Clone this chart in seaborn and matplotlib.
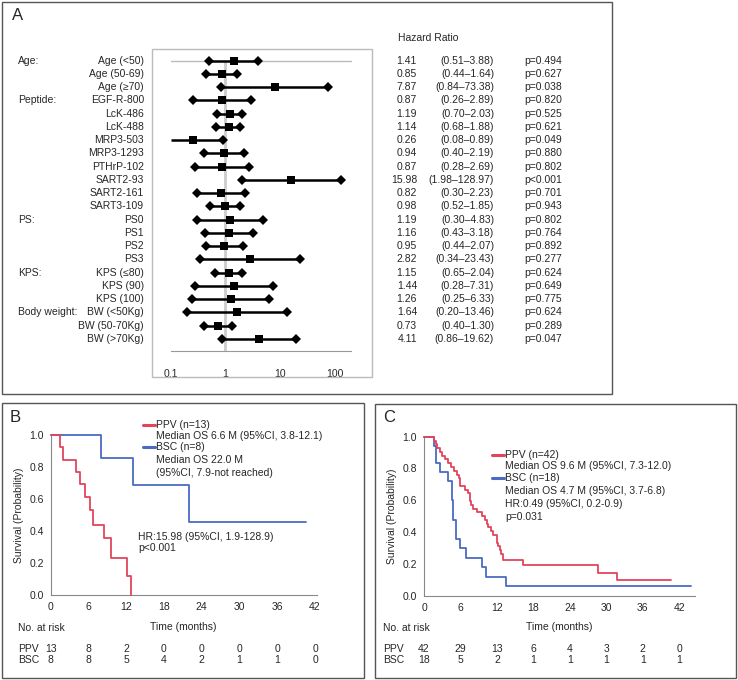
import numpy as np
import matplotlib
matplotlib.use("Agg")
import matplotlib.pyplot as plt
import matplotlib.transforms as mtransforms
from matplotlib.patches import Rectangle
from matplotlib.lines import Line2D
from matplotlib.ticker import MultipleLocator, NullLocator
import seaborn as sns

sns.set_style("white")
plt.rcParams["font.family"] = ["Liberation Sans", "DejaVu Sans"]

# ---- panel A data (forest plot) ----
sub_labels = ["Age (<50)", "Age (50-69)", "Age (\u226570)", "EGF-R-800", "LcK-486", "LcK-488",
              "MRP3-503", "MRP3-1293", "PTHrP-102", "SART2-93", "SART2-161", "SART3-109",
              "PS0", "PS1", "PS2", "PS3", "KPS (\u226480)", "KPS (90)", "KPS (100)",
              "BW (<50Kg)", "BW (50-70Kg)", "BW (>70Kg)"]
group_rows = [0, 3, 12, 16, 19]
group_labels = ["Age:", "Peptide:", "PS:", "KPS:", "Body weight:"]
hr = [1.41, 0.85, 7.87, 0.87, 1.19, 1.14, 0.26, 0.94, 0.87, 15.98, 0.82, 0.98,
      1.19, 1.16, 0.95, 2.82, 1.15, 1.44, 1.26, 1.64, 0.73, 4.11]
ci_lo = [0.51, 0.44, 0.84, 0.26, 0.70, 0.68, 0.08, 0.40, 0.28, 1.98, 0.30, 0.52,
         0.30, 0.43, 0.44, 0.34, 0.65, 0.28, 0.25, 0.20, 0.40, 0.86]
ci_hi = [3.88, 1.64, 73.38, 2.89, 2.03, 1.88, 0.89, 2.19, 2.69, 128.97, 2.23, 1.85,
         4.83, 3.18, 2.07, 23.43, 2.04, 7.31, 6.33, 13.46, 1.30, 19.62]
pvals = ["p=0.494", "p=0.627", "p=0.038", "p=0.820", "p=0.525", "p=0.621", "p=0.049",
         "p=0.880", "p=0.802", "p<0.001", "p=0.701", "p=0.943", "p=0.802", "p=0.764",
         "p=0.892", "p=0.277", "p=0.624", "p=0.649", "p=0.775", "p=0.624", "p=0.289",
         "p=0.047"]
hr_ticks = [0.1, 1, 10, 100]

# ---- panel B data (Kaplan-Meier) ----
b_ppv_t = [0, 1.4, 2.0, 4.0, 4.6, 5.5, 6.25, 6.7, 8.5, 9.6, 12.1, 12.7]
b_ppv_s = [1.0, 0.923, 0.846, 0.769, 0.692, 0.615, 0.529, 0.44, 0.354, 0.233, 0.117, 0.0]
b_bsc_t = [0, 8.0, 13.0, 22.0, 40.5]
b_bsc_s = [1.0, 0.857, 0.686, 0.457, 0.457]
b_risk_ppv = [13, 8, 2, 0, 0, 0, 0, 0]
b_risk_bsc = [8, 8, 5, 4, 2, 1, 1, 0]

# ---- panel C data ----
c_ppv_t = [0, 1.7, 1.9, 2.2, 2.6, 3.0, 3.4, 3.9, 4.4, 5.0, 5.4, 5.8, 6.0, 6.8, 7.3, 7.5,
           7.6, 7.8, 8.0, 8.8, 9.6, 10.0, 10.3, 10.5, 11.0, 11.3, 12.0, 12.2, 12.5, 12.7,
           13.0, 16.3, 28.7, 31.8, 40.6]
c_ppv_s = [1.0, 0.976, 0.952, 0.929, 0.905, 0.881, 0.857, 0.833, 0.810, 0.786, 0.762,
           0.738, 0.690, 0.667, 0.643, 0.619, 0.595, 0.571, 0.548, 0.524, 0.500, 0.476,
           0.452, 0.429, 0.405, 0.381, 0.333, 0.310, 0.286, 0.262, 0.226, 0.194, 0.145,
           0.097, 0.097]
c_bsc_t = [0, 1.7, 2.0, 2.7, 3.9, 4.55, 4.85, 5.3, 5.9, 6.9, 9.5, 10.2, 13.5, 44.0]
c_bsc_s = [1.0, 0.944, 0.833, 0.778, 0.722, 0.60, 0.476, 0.357, 0.298, 0.238, 0.179,
           0.119, 0.06, 0.06]
c_risk_ppv = [42, 29, 13, 6, 4, 3, 2, 0]
c_risk_bsc = [18, 5, 2, 1, 1, 1, 1, 1]
risk_months = [0, 6, 12, 18, 24, 30, 36, 42]

RED = "#e2445a"
BLUE = "#4a6ac4"
W, H = 738, 680
fig = plt.figure(figsize=(W / 100, H / 100), dpi=100)


def fx(x):
    return x / W


def fy(y):
    return 1 - y / H


def add_ax(x0, y0, x1, y1):
    return fig.add_axes([x0 / W, 1 - y1 / H, (x1 - x0) / W, (y1 - y0) / H])


def box(x0, y0, x1, y1):
    fig.add_artist(Rectangle((fx(x0), fy(y1)), (x1 - x0) / W, (y1 - y0) / H,
                             transform=fig.transFigure, fill=False, ec="#555555", lw=1))


# outer panel boxes
box(2, 2, 612, 394)
box(2, 403, 364, 678)
box(375, 404, 736, 678)
fig.text(fx(12), fy(16), "A", fontsize=12, va="center", ha="left")
fig.text(fx(10), fy(418), "B", fontsize=12, va="center", ha="left")
fig.text(fx(383), fy(418), "C", fontsize=12, va="center", ha="left")

# ================= panel A =================
ax = add_ax(152, 49, 372, 377)
ax.set_xscale("log")
ax.set_xlim(10 ** -1.341, 10 ** 2.675)
ax.set_ylim(23.87, -0.883)
rows = np.arange(len(hr))
for s in ["top", "left", "right"]:
    ax.spines[s].set_visible(False)
ax.spines["bottom"].set_position(("data", 21.9))
ax.spines["bottom"].set_bounds(0.1, 193)
ax.spines["bottom"].set_color("#999999")
ax.add_patch(Rectangle((0, 0), 1, 1, transform=ax.transAxes, fill=False,
                       ec="#bbbbbb", lw=1, clip_on=False))
ax.set_xticks(hr_ticks)
ax.set_xticklabels(["0.1", "1", "10", "100"])
ax.xaxis.set_minor_locator(NullLocator())
ax.tick_params(axis="x", direction="out", length=4, pad=9, color="#999999", labelsize=7.5)
ax.set_yticks([])

ax.plot([0.1, 193], [0, 0], color="#bbbbbb", lw=1, zorder=1)
ax.vlines(1, 0, 21.9, color="#cccccc", lw=2, zorder=1)
xmin_plot = 0.1
lo_draw = [max(v, xmin_plot) for v in ci_lo]
ax.hlines(rows, lo_draw, ci_hi, color="black", lw=1.8, zorder=2)
lo_vis = [(v, r) for v, r in zip(ci_lo, rows) if v >= xmin_plot]
ax.plot([v for v, r in lo_vis], [r for v, r in lo_vis], ls="none", marker="D",
        ms=4.8, mew=0, color="black", zorder=3)
ax.plot(ci_hi, rows, ls="none", marker="D", ms=4.8, mew=0, color="black", zorder=3)
sns.scatterplot(x=hr, y=rows, marker="s", s=36, color="black", linewidth=0,
                ax=ax, zorder=4, legend=False)

tr = mtransforms.blended_transform_factory(fig.transFigure, ax.transData)
for r, lab in zip(rows, sub_labels):
    ax.text(fx(144), r, lab, transform=tr, ha="right", va="center", fontsize=7.5)
for r, lab in zip(group_rows, group_labels):
    ax.text(fx(18), r, lab, transform=tr, ha="left", va="center", fontsize=7.5)
fig.text(fx(398), fy(38), "Hazard Ratio", ha="left", va="center", fontsize=7.5)
for r in rows:
    ax.text(fx(417), r, f"{hr[r]:.2f}", transform=tr, ha="right", va="center", fontsize=7.5)
    ax.text(fx(494), r, f"({ci_lo[r]:.2f}\u2013{ci_hi[r]:.2f})", transform=tr,
            ha="right", va="center", fontsize=7.5)
    ax.text(fx(524), r, pvals[r], transform=tr, ha="left", va="center", fontsize=7.5)


# ================= panels B and C =================
def km_axes(x0, x1, y0, y1, xmax):
    a = add_ax(x0, y0, x1, y1)
    a.set_xlim(0, xmax)
    a.set_ylim(0, 1.0)
    a.spines["top"].set_visible(False)
    a.spines["right"].set_visible(False)
    for s in ["left", "bottom"]:
        a.spines[s].set_color("#888888")
        a.spines[s].set_linewidth(0.8)
    a.set_xticks(risk_months)
    a.set_yticks([0, 0.2, 0.4, 0.6, 0.8, 1.0])
    a.set_yticklabels(["0.0", "0.2", "0.4", "0.6", "0.8", "1.0"])
    a.xaxis.set_minor_locator(MultipleLocator(3))
    a.yaxis.set_minor_locator(MultipleLocator(0.1))
    a.tick_params(which="major", direction="out", length=3, width=0.8, color="#888888",
                  labelsize=7.5, pad=2)
    a.tick_params(which="minor", direction="in", length=2, width=0.6, color="#aaaaaa")
    a.set_ylabel("Survival (Probability)", fontsize=7.5, labelpad=4)
    a.set_xlabel("Time (months)", fontsize=7.5, labelpad=7)
    return a


def km_curve(a, t, s, color):
    sns.lineplot(x=t, y=s, drawstyle="steps-post", color=color, lw=1.3, ax=a,
                 estimator=None, legend=False, clip_on=False, zorder=3)


def risk_table(a, xlab, ppv, bsc):
    trk = mtransforms.blended_transform_factory(a.transData, fig.transFigure)
    fig.text(fx(xlab), fy(628), "No. at risk", ha="left", va="center", fontsize=7.5)
    fig.text(fx(xlab), fy(649), "PPV", ha="left", va="center", fontsize=7.5)
    fig.text(fx(xlab), fy(660), "BSC", ha="left", va="center", fontsize=7.5)
    for m, v1, v2 in zip(risk_months, ppv, bsc):
        a.text(m, fy(649), str(v1), transform=trk, ha="center", va="center", fontsize=7.5)
        a.text(m, fy(660), str(v2), transform=trk, ha="center", va="center", fontsize=7.5)


def legend_line(x0, x1, y, color):
    fig.add_artist(Line2D([fx(x0), fx(x1)], [fy(y), fy(y)], transform=fig.transFigure,
                          color=color, lw=2.2))


# panel B
axb = km_axes(50.7, 316.7, 435, 595, 42.27)
km_curve(axb, b_bsc_t, b_bsc_s, BLUE)
km_curve(axb, b_ppv_t, b_ppv_s, RED)
risk_table(axb, 18, b_risk_ppv, b_risk_bsc)
legend_line(143, 155, 425, RED)
legend_line(143, 155, 446.7, BLUE)
fig.text(fx(156.5), fy(425), "PPV (n=13)", va="center", fontsize=7.5)
fig.text(fx(156.5), fy(435.7), "Median OS 6.6 M (95%CI, 3.8-12.1)", va="center", fontsize=7.5)
fig.text(fx(156.5), fy(446.7), "BSC (n=8)", va="center", fontsize=7.5)
fig.text(fx(156.5), fy(460), "Median OS 22.0 M", va="center", fontsize=7.5)
fig.text(fx(156.5), fy(472.7), "(95%CI, 7.9-not reached)", va="center", fontsize=7.5)
fig.text(fx(138.5), fy(536.7), "HR:15.98 (95%CI, 1.9-128.9)", va="center", fontsize=7.5)
fig.text(fx(138.5), fy(548.3), "p<0.001", va="center", fontsize=7.5)

# panel C
axc = km_axes(424, 695, 436.7, 595.7, 44.58)
km_curve(axc, c_bsc_t, c_bsc_s, BLUE)
km_curve(axc, c_ppv_t, c_ppv_s, RED)
risk_table(axc, 383, c_risk_ppv, c_risk_bsc)
legend_line(491.7, 503.5, 455, RED)
legend_line(491.7, 503.5, 478.3, BLUE)
fig.text(fx(505), fy(455), "PPV (n=42)", va="center", fontsize=7.5)
fig.text(fx(505), fy(466), "Median OS 9.6 M (95%CI, 7.3-12.0)", va="center", fontsize=7.5)
fig.text(fx(505), fy(478.3), "BSC (n=18)", va="center", fontsize=7.5)
fig.text(fx(505), fy(490.7), "Median OS 4.7 M (95%CI, 3.7-6.8)", va="center", fontsize=7.5)
fig.text(fx(505), fy(504), "HR:0.49 (95%CI, 0.2-0.9)", va="center", fontsize=7.5)
fig.text(fx(505), fy(516.7), "p=0.031", va="center", fontsize=7.5)

fig.savefig("out.png", dpi=100)
